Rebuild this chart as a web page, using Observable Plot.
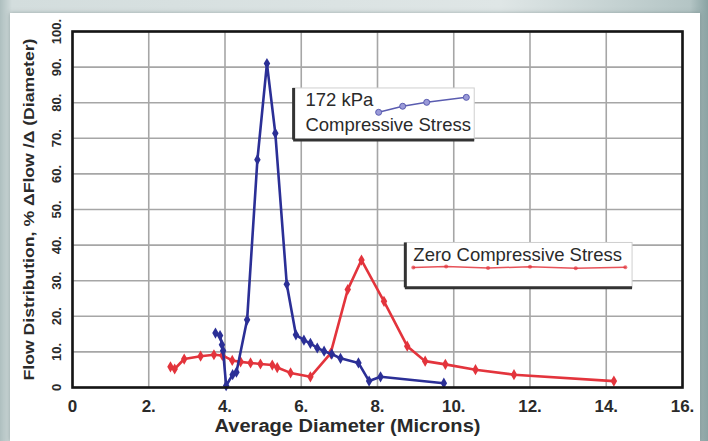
<!DOCTYPE html>
<html><head><meta charset="utf-8">
<script src="https://cdn.jsdelivr.net/npm/d3@7"></script>
<script src="https://cdn.jsdelivr.net/npm/@observablehq/plot@0.6"></script>
<style>
html,body{margin:0;padding:0;width:708px;height:441px;overflow:hidden;}
body{position:relative;background:linear-gradient(to right,#aebfbf 0px,#d3dddd 12px,#dfe6e6 500px,#b4c5c5 690px,#8aa3a3 708px);font-family:"Liberation Sans",Arial,sans-serif;}
#panel{position:absolute;left:10px;top:13px;width:690px;height:428px;background:#fff;box-shadow:0 0 4px rgba(90,110,110,0.5);}
#chart{position:absolute;left:0;top:0;}
</style></head><body>
<div id="panel"></div><div id="chart"></div>
<script>
// 172 kPa compressive stress (blue)
const blueX = [3.75, 3.87, 3.92, 3.95, 4.03, 4.2, 4.3, 4.58, 4.85, 5.1, 5.32, 5.62, 5.86, 6.07, 6.24, 6.42, 6.6, 6.8, 7.03, 7.5, 7.78, 8.08, 9.74];
const blueY = [15.3, 14.6, 12.0, 10.3, 0.5, 3.6, 4.3, 19.0, 64.0, 91.0, 71.4, 29.0, 14.8, 13.3, 12.4, 11.1, 10.2, 9.4, 8.2, 6.9, 1.8, 3.0, 1.2];
// Zero compressive stress (red)
const redX = [2.57, 2.68, 2.93, 3.36, 3.71, 3.93, 4.19, 4.41, 4.67, 4.93, 5.24, 5.37, 5.72, 6.24, 6.77, 7.22, 7.58, 8.17, 8.78, 9.25, 9.78, 10.57, 11.58, 14.2];
const redY = [5.8, 5.2, 8.0, 8.8, 9.2, 9.0, 7.6, 7.2, 6.9, 6.6, 6.3, 5.6, 4.1, 3.0, 9.6, 27.5, 35.8, 24.2, 11.6, 7.4, 6.5, 5.0, 3.6, 1.8];
const xTicks = [0, 2, 4, 6, 8, 10, 12, 14, 16];
const yTicks = [0, 10, 20, 30, 40, 50, 60, 70, 80, 90, 100];
const seriesNames = ["172 kPa", "Compressive Stress", "Zero Compressive Stress"];
const xTitle = "Average Diameter (Microns)";
const yTitle = "Flow Distribution, % \u0394Flow /\u0394 (Diameter)";

const blue = blueX.map((x, i) => ({x, y: blueY[i]}));
const red = redX.map((x, i) => ({x, y: redY[i]}));
const fmt = d => d === 0 ? "0" : d + ".";

// legend annotation geometry (data units)
const box1 = {x1: 5.80, x2: 10.55, y1: 69.5, y2: 84.0};
const box2 = {x1: 8.73, x2: 14.69, y1: 28.0, y2: 40.6};
const blueSample = [{x: 8.03, y: 77.3}, {x: 8.66, y: 79.0}, {x: 9.29, y: 80.1}, {x: 10.33, y: 81.5}];
const redSample = [{x: 8.94, y: 33.7}, {x: 9.8, y: 34.0}, {x: 10.9, y: 33.6}, {x: 12.0, y: 33.9}, {x: 13.2, y: 33.5}, {x: 14.5, y: 33.8}];

const BLUE = "#2b2f96", RED = "#e3343c", TXT = "#2a2a2a";
const font = "Liberation Sans, Arial, sans-serif";

const chart = Plot.plot({
  width: 708, height: 441,
  marginLeft: 72, marginRight: 26, marginTop: 31, marginBottom: 54,
  style: {background: "transparent", fontFamily: font, overflow: "visible"},
  x: {domain: [0, 16]},
  y: {domain: [0, 100]},
  marks: [
    Plot.gridX(xTicks, {stroke: "#a6a6a6", strokeOpacity: 1, strokeWidth: 1.6}),
    Plot.gridY(yTicks, {stroke: "#a6a6a6", strokeOpacity: 1, strokeWidth: 1.6}),
    // legend boxes
    Plot.rect([box1, box2], {x1: "x1", x2: "x2", y1: "y1", y2: "y2", fill: "white", stroke: "#cfcfcf", strokeWidth: 1}),
    Plot.ruleX([box1, box2], {x: "x1", y1: "y1", y2: "y2", stroke: "#333", strokeWidth: 3}),
    Plot.ruleY([box1, box2], {y: "y1", x1: "x1", x2: "x2", stroke: "#333", strokeWidth: 3}),
    Plot.text([seriesNames[0]], {x: 6.11, y: 80.7, textAnchor: "start", fontSize: 18.5, fill: TXT}),
    Plot.text([seriesNames[1]], {x: 6.11, y: 73.8, textAnchor: "start", fontSize: 18.5, fill: TXT}),
    Plot.text([seriesNames[2]], {x: 8.94, y: 37.2, textAnchor: "start", fontSize: 18.5, fill: TXT}),
    Plot.line(blueSample, {x: "x", y: "y", stroke: "#5a5cb0", strokeWidth: 1.5}),
    Plot.dot(blueSample, {x: "x", y: "y", r: 3, fill: "#9a9ad8", stroke: "#5a5cb0", strokeWidth: 1}),
    Plot.line(redSample, {x: "x", y: "y", stroke: RED, strokeWidth: 1.5, strokeOpacity: 0.85}),
    Plot.dot(redSample, {x: "x", y: "y", r: 2, fill: RED, fillOpacity: 0.7}),
    // data series
    Plot.line(red, {x: "x", y: "y", stroke: RED, strokeWidth: 2.6}),
    Plot.dot(red, {x: "x", y: "y", r: 3.4, symbol: "diamond", fill: RED}),
    Plot.line(blue, {x: "x", y: "y", stroke: BLUE, strokeWidth: 2.6}),
    Plot.dot(blue, {x: "x", y: "y", r: 3.4, symbol: "diamond", fill: BLUE}),
    Plot.frame({stroke: "#151515", strokeWidth: 2.6}),
    Plot.axisX(xTicks, {tickSize: 0, tickPadding: 12, fontSize: 17, fontWeight: "bold", tickFormat: fmt, label: null, fill: TXT}),
    Plot.axisY(yTicks, {tickSize: 0, tickPadding: 12, tickRotate: -90, fontSize: 13, fontWeight: "bold", tickFormat: fmt, label: null, fill: TXT}),
    Plot.text([xTitle], {frameAnchor: "bottom", dy: 44, dx: -30, fontSize: 18, fontWeight: "bold", fill: TXT}),
    Plot.text([yTitle], {frameAnchor: "left", textAnchor: "middle", rotate: -90, dx: -43, fontSize: 14, fontWeight: "bold", fill: TXT})
  ]
});
document.getElementById("chart").appendChild(chart);
// fit the axis titles to the lengths they take in the reference
d3.select(chart).selectAll("text").each(function () {
  const t = this.textContent;
  if (t === yTitle) d3.select(this).attr("textLength", 342).attr("lengthAdjust", "spacingAndGlyphs");
  if (t === xTitle) d3.select(this).attr("textLength", 266).attr("lengthAdjust", "spacingAndGlyphs");
});
</script>
</body></html>
